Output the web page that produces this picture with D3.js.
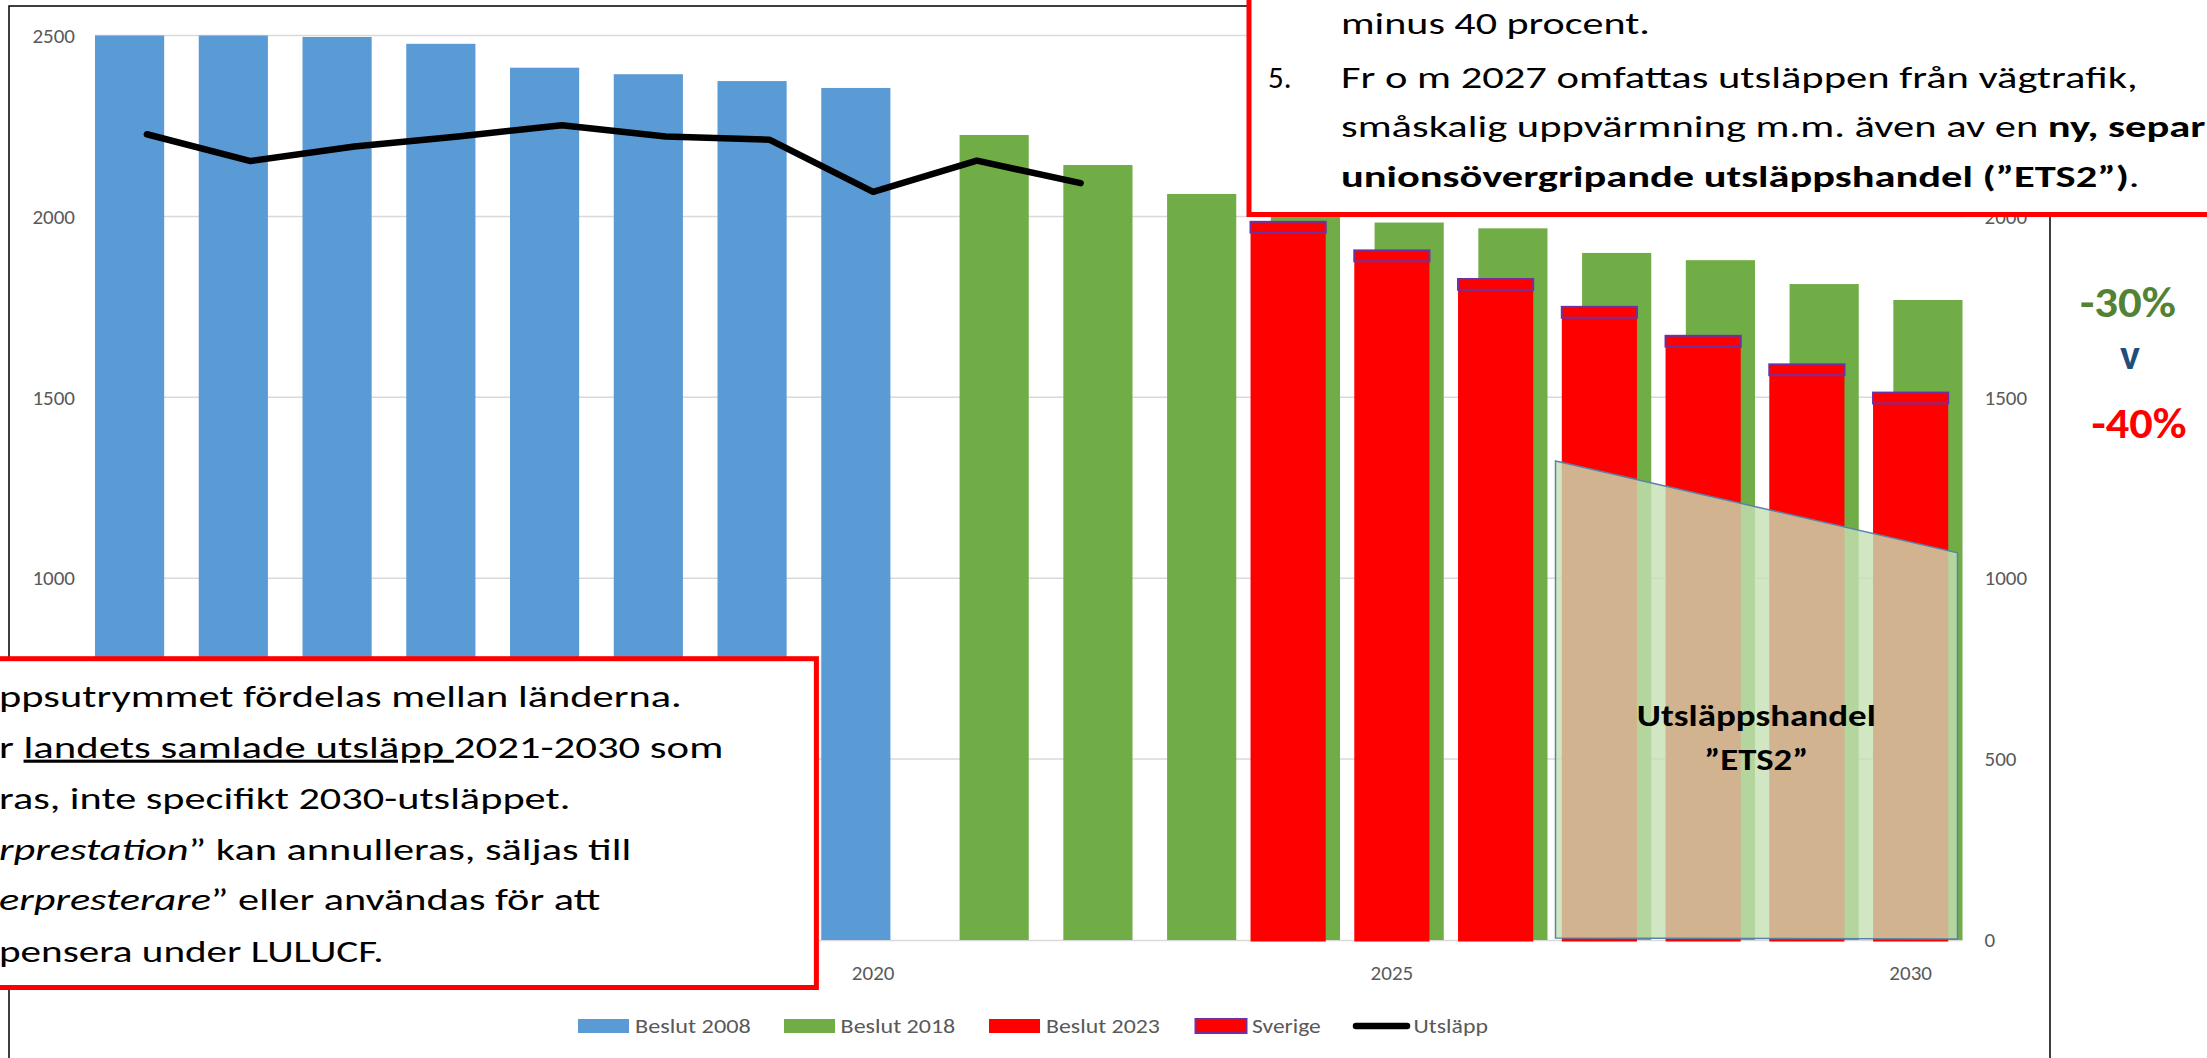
<!DOCTYPE html>
<html>
<head>
<meta charset="utf-8">
<script src="https://cdn.jsdelivr.net/npm/d3@7"></script>
<style>
  body { margin: 0; background: #fff; overflow: hidden; }
  svg { display: block; }
  text { white-space: pre; }
</style>
</head>
<body>
<svg id="chart" width="2207" height="1058"></svg>
<script>
"use strict"

// ---- data ----
const years = ["2013", "2014", "2015", "2016", "2017", "2018", "2019", "2020", "2021",
  "2022", "2023", "2024", "2025", "2026", "2027", "2028", "2029", "2030"]
// 2015 label and the low left-axis labels sit under the note box in the picture
const xTickYears = ["2020", "2025", "2030"]
const yTicksLeft = [1000, 1500, 2000, 2500]
const yTicksRight = [0, 500, 1000, 1500, 2000, 2500]
const gridValues = [500, 1000, 1500, 2000, 2500]

// Beslut 2008
const years2008 = ["2013", "2014", "2015", "2016", "2017", "2018", "2019", "2020"]
const beslut2008 = [2500, 2500, 2496, 2477, 2411, 2393, 2374, 2355]

// Beslut 2018
const years2018 = ["2021", "2022", "2023", "2024", "2025", "2026", "2027", "2028", "2029", "2030"]
const beslut2018 = [2225, 2142, 2062, 2030, 1983, 1967, 1899, 1879, 1813, 1769]

// Beslut 2023, with Sverige stacked on top
const years2023 = ["2024", "2025", "2026", "2027", "2028", "2029", "2030"]
const beslut2023 = [1955, 1876, 1797, 1720, 1640, 1561, 1483]
const sverige = [30, 30, 30, 30, 30, 30, 30]

// Utsläpp
const yearsUtslapp = ["2013", "2014", "2015", "2016", "2017", "2018", "2019", "2020", "2021", "2022"]
const utslapp = [2227, 2153, 2193, 2221, 2252, 2221, 2212, 2068, 2154, 2092]

// ETS2 wedge, from 2027 to 2030
const ets2Values = [1324, 1070]

const FONT = "Carlito, Calibri, Lato, sans-serif"
const GRAY = "#595959"
const W = 2207
const H = 1058

const plot = {left: 95, right: 1962.5, top: 35.5, bottom: 940}

const svg = d3.select("#chart")

const x = d3.scaleBand().domain(years).range([plot.left, plot.right]).padding(0)
const y = d3.scaleLinear().domain([0, 2500]).range([plot.bottom, plot.top])
const step = x.step()
const pairW = step * 2 / 3      // gap 0 %, overlap 50 %
const redW = step / 1.38        // secondary bars, gap ~38 %

// squeeze the substitute font to the width seen in the picture
function fit(sel, x0, x1, anchor) {
  const w = sel.node().getComputedTextLength()
  const s = (x1 - x0) / w
  const ox = anchor === "middle" ? (x0 + x1) / 2 : (anchor === "end" ? x1 : x0)
  sel.attr("transform", `translate(${ox},0) scale(${s},1) translate(${-ox},0)`)
  return s
}

function textLine(g, xx, yy, parts, size, color) {
  const t = g.append("text")
    .attr("x", xx).attr("y", yy)
    .attr("font-family", FONT).attr("font-size", size)
    .attr("fill", color || "#000")
  parts.forEach(p => {
    const ts = t.append("tspan").text(p.t)
    if (p.b) ts.attr("font-weight", "bold")
    if (p.i) ts.attr("font-style", "italic")
    if (p.u) ts.attr("text-decoration", "underline")
  })
  return t
}

svg.append("rect").attr("width", W).attr("height", H).attr("fill", "#fff")

// chart frame
svg.append("rect")
  .attr("x", 9).attr("y", 6).attr("width", 2041).attr("height", 1200)
  .attr("fill", "none").attr("stroke", "#000").attr("stroke-width", 1.5)

// gridlines
svg.append("g").selectAll("line").data(gridValues).join("line")
  .attr("x1", plot.left).attr("x2", plot.right)
  .attr("y1", d => y(d)).attr("y2", d => y(d))
  .attr("stroke", "#d9d9d9").attr("stroke-width", 1.5)

// x axis
const xAxis = svg.append("g")
  .attr("transform", `translate(0,${plot.bottom})`)
  .call(d3.axisBottom(x).tickValues(xTickYears).tickSize(0).tickSizeOuter(0).tickPadding(25))
xAxis.select(".domain").attr("stroke", "#d9d9d9").attr("stroke-width", 1.5)
xAxis.selectAll("text").attr("font-family", FONT).attr("font-size", 21).attr("fill", GRAY)

// bars
svg.append("g").selectAll("rect").data(beslut2008).join("rect")
  .attr("x", (d, i) => x(years2008[i]))
  .attr("width", pairW)
  .attr("y", d => y(d))
  .attr("height", d => y(0) - y(d))
  .attr("fill", "#5b9bd5")

svg.append("g").selectAll("rect").data(beslut2018).join("rect")
  .attr("x", (d, i) => x(years2018[i]) + step / 3)
  .attr("width", pairW)
  .attr("y", d => y(d))
  .attr("height", d => y(0) - y(d))
  .attr("fill", "#70ad47")

svg.append("g").selectAll("rect").data(beslut2023).join("rect")
  .attr("x", (d, i) => x(years2023[i]) + (step - redW) / 2)
  .attr("width", redW)
  .attr("y", d => y(d))
  .attr("height", d => y(0) - y(d) + 1.5)
  .attr("fill", "#ff0000")

svg.append("g").selectAll("rect").data(sverige).join("rect")
  .attr("x", (d, i) => x(years2023[i]) + (step - redW) / 2)
  .attr("width", redW)
  .attr("y", (d, i) => y(beslut2023[i] + d))
  .attr("height", (d, i) => y(beslut2023[i]) - y(beslut2023[i] + d))
  .attr("fill", "#ff0000")
  .attr("stroke", "#7030a0").attr("stroke-width", 2)

// Utsläpp line
const line = d3.line()
  .x((d, i) => x(yearsUtslapp[i]) + step / 2)
  .y(d => y(d))
svg.append("path")
  .attr("d", line(utslapp))
  .attr("fill", "none").attr("stroke", "#000").attr("stroke-width", 6.5)
  .attr("stroke-linejoin", "round").attr("stroke-linecap", "round")

// y axes (left and right)
const yAxisL = svg.append("g")
  .attr("transform", `translate(${plot.left},0)`)
  .call(d3.axisLeft(y).tickValues(yTicksLeft).tickFormat(d3.format("d")).tickSize(0).tickPadding(20))
const yAxisR = svg.append("g")
  .attr("transform", `translate(${plot.right},0)`)
  .call(d3.axisRight(y).tickValues(yTicksRight).tickFormat(d3.format("d")).tickSize(0).tickPadding(22))
;[yAxisL, yAxisR].forEach(a => {
  a.select(".domain").remove()
  a.selectAll("text").attr("font-family", FONT).attr("font-size", 21).attr("fill", GRAY)
})

// ETS2 wedge
const ex0 = x("2027") + 8
const ex1 = x("2030") + step - 5
svg.append("path")
  .attr("d", d3.line()([[ex0, y(ets2Values[0])], [ex1, y(ets2Values[1])], [ex1, y(0) - 1], [ex0, y(0) - 2]]) + "Z")
  .attr("fill", "#c5e0b4").attr("fill-opacity", 0.8)
  .attr("stroke", "#5a82a8").attr("stroke-width", 1.5)

const etsG = svg.append("g")
fit(textLine(etsG, (ex0 + ex1) / 2, 726.5, [{t: "Utsläppshandel", b: true}], 31).attr("text-anchor", "middle"), 1638, 1877, "middle")
fit(textLine(etsG, (ex0 + ex1) / 2, 770, [{t: "”ETS2”", b: true}], 31).attr("text-anchor", "middle"), 1706, 1810, "middle")

// note box, top right
const boxTR = svg.append("g")
boxTR.append("rect")
  .attr("x", 1249).attr("y", -30).attr("width", 1100).attr("height", 244.5)
  .attr("fill", "#fff").attr("stroke", "#ff0000").attr("stroke-width", 5)
fit(textLine(boxTR, 1341, 34, [{t: "minus 40 procent."}], 31), 1341, 1650)
textLine(boxTR, 1268, 88, [{t: "5."}], 31)
fit(textLine(boxTR, 1341, 88, [{t: "Fr o m 2027 omfattas utsläppen från vägtrafik,"}], 31), 1341, 2138)
const l3 = textLine(boxTR, 1341, 137.5, [{t: "småskalig uppvärmning m.m. även av en "}, {t: "ny, separ", b: true}], 31)
{
  const pre = l3.select("tspan").node().getComputedTextLength()
  const s = (2048 - 1341) / pre
  l3.attr("transform", `translate(1341,0) scale(${s},1) translate(-1341,0)`)
}
fit(textLine(boxTR, 1341, 187.5, [{t: "unionsövergripande utsläppshandel (”ETS2”)", b: true}, {t: "."}], 31), 1341, 2140)

// note box, bottom left
const boxBL = svg.append("g")
boxBL.append("rect")
  .attr("x", -50).attr("y", 658.7).attr("width", 866.4).attr("height", 328.8)
  .attr("fill", "#fff").attr("stroke", "#ff0000").attr("stroke-width", 5)
const notes = [
  {parts: [{t: "ppsutrymmet fördelas mellan länderna."}], y: 707, x1: 682},
  {parts: [{t: "r "}, {t: "landets samlade utsläpp ", u: true}, {t: "2021-2030 som"}], y: 758, x1: 723.7},
  {parts: [{t: "ras, inte specifikt 2030-utsläppet."}], y: 809, x1: 570.5},
  {parts: [{t: "rprestation", i: true}, {t: "” kan annulleras, säljas till"}], y: 860, x1: 631.5},
  {parts: [{t: "erpresterare", i: true}, {t: "” eller användas för att"}], y: 910, x1: 600.6},
  {parts: [{t: "pensera under LULUCF."}], y: 962, x1: 383.8}
]
notes.forEach(n => {
  fit(textLine(boxBL, -1, n.y, n.parts, 31), -1, n.x1)
})

// -30% v -40%
const side = svg.append("g")
fit(textLine(side, 2128, 316.7, [{t: "-30%", b: true}], 42, "#548235").attr("text-anchor", "middle"), 2080, 2176, "middle")
textLine(side, 2130, 369, [{t: "v", b: true}], 42, "#1f4e79").attr("text-anchor", "middle")
fit(textLine(side, 2139, 438, [{t: "-40%", b: true}], 42, "#ff0000").attr("text-anchor", "middle"), 2091.7, 2186.7, "middle")

// legend
const legendItems = [
  {label: "Beslut 2008", kind: "bar", fill: "#5b9bd5", x: 578, tx: 635, tw: 115.8},
  {label: "Beslut 2018", kind: "bar", fill: "#70ad47", x: 784, tx: 840.6, tw: 114.8},
  {label: "Beslut 2023", kind: "bar", fill: "#ff0000", x: 989, tx: 1046, tw: 114},
  {label: "Sverige", kind: "sverige", fill: "#ff0000", x: 1195.5, tx: 1252, tw: 68.8},
  {label: "Utsläpp", kind: "line", fill: "#000", x: 1353, tx: 1413.6, tw: 74.4}
]
const legend = svg.append("g")
legendItems.forEach(it => {
  if (it.kind === "line") {
    legend.append("line")
      .attr("x1", it.x + 3).attr("x2", it.x + 54).attr("y1", 1026).attr("y2", 1026)
      .attr("stroke", "#000").attr("stroke-width", 6.5).attr("stroke-linecap", "round")
  } else {
    const r = legend.append("rect")
      .attr("x", it.x).attr("y", 1019).attr("width", 51).attr("height", 14)
      .attr("fill", it.fill)
    if (it.kind === "sverige") r.attr("stroke", "#7030a0").attr("stroke-width", 2)
  }
  fit(textLine(legend, it.tx, 1033, [{t: it.label}], 21, GRAY), it.tx, it.tx + it.tw)
})
</script>
</body>
</html>
